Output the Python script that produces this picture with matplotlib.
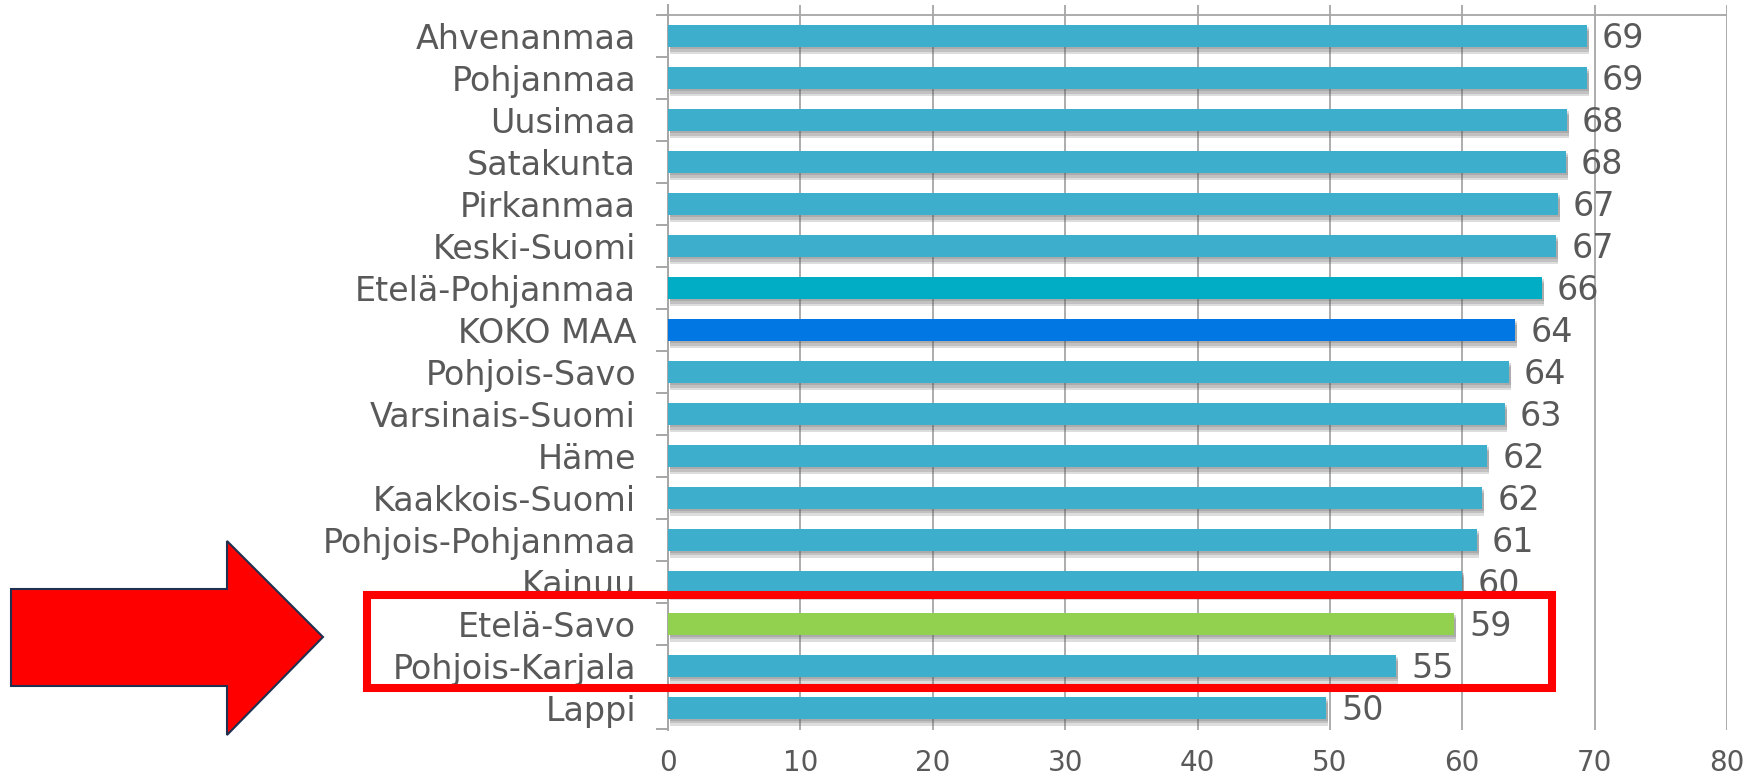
import matplotlib
matplotlib.use("Agg")
import matplotlib.pyplot as plt
import matplotlib.patheffects as pe
from matplotlib.patches import Rectangle, Polygon

# Data
regions = ["Ahvenanmaa", "Pohjanmaa", "Uusimaa", "Satakunta", "Pirkanmaa",
           "Keski-Suomi", "Etelä-Pohjanmaa", "KOKO MAA", "Pohjois-Savo",
           "Varsinais-Suomi", "Häme", "Kaakkois-Suomi", "Pohjois-Pohjanmaa",
           "Kainuu", "Etelä-Savo", "Pohjois-Karjala", "Lappi"]
values = [69.4, 69.4, 67.9, 67.8, 67.2, 67.1, 66.0, 64.0, 63.5,
          63.2, 61.9, 61.5, 61.1, 60.0, 59.4, 55.0, 49.7]
xticks = [0, 10, 20, 30, 40, 50, 60, 70, 80]

W, H = 1749, 778
base_color = "#3DAFCC"
special = {"Etelä-Pohjanmaa": "#00ADC5", "KOKO MAA": "#0077E2", "Etelä-Savo": "#92D050"}
text_color = "#595959"
grid_color = "#A6A6A6"

fig = plt.figure(figsize=(W / 100, H / 100), dpi=100)
ax = fig.add_axes([668 / W, 1 - 730 / H, (1727 - 668) / W, 725 / H])

colors = [special.get(r, base_color) for r in regions]
ypos = list(range(len(regions)))
bars = ax.barh(ypos, values, height=0.54, color=colors, zorder=3)
# soft drop shadow under each bar
shadow = [pe.SimplePatchShadow(offset=(1.5, -d), shadow_rgbFace="#555555", alpha=0.2)
          for d in (1.5, 3, 4.5)]
for b in bars:
    b.set_path_effects(shadow + [pe.Normal()])

for y, v in zip(ypos, values):
    ax.annotate(str(round(v)), xy=(v, y), xytext=(11, -1.5), textcoords="offset points",
                va="center", ha="left", fontsize=24, color=text_color, zorder=4)

ax.set_xlim(0, 80)
ax.set_ylim(16.524, -0.738)
ax.set_xticks(xticks)
ax.set_xticklabels([str(t) for t in xticks])
ax.set_yticks(ypos)
ax.set_yticklabels(regions)
ax.set_yticks([i - 0.5 for i in range(len(regions) + 1)], minor=True)

ax.tick_params(axis="x", length=0, pad=14, labelsize=20, labelcolor=text_color)
ax.tick_params(axis="y", which="major", length=0, pad=23, labelsize=24, labelcolor=text_color)
ax.tick_params(axis="y", which="minor", length=9, width=1.4, color=grid_color)

ax.grid(axis="x", color=grid_color, linewidth=1.3, zorder=0)
ax.axhline(-0.5, color=grid_color, linewidth=1.3, zorder=1)
for s in ["top", "right", "bottom"]:
    ax.spines[s].set_visible(False)
ax.spines["left"].set_color(grid_color)
ax.spines["left"].set_linewidth(1.4)


def fx(px):
    return px / W


def fy(py):
    return 1 - py / H


# red highlight box
box = Rectangle((fx(367), fy(688)), fx(1552) - fx(367), fy(594.5) - fy(688),
                transform=fig.transFigure, fill=False, edgecolor="#FF0000",
                linewidth=5.8, zorder=10)
fig.add_artist(box)

# red arrow
arrow_px = [(11, 589), (227, 589), (227, 541), (323, 637), (227, 735), (227, 686), (11, 686)]
arrow = Polygon([(fx(x), fy(y)) for x, y in arrow_px], closed=True,
                transform=fig.transFigure, facecolor="#FF0000",
                edgecolor="#1F3050", linewidth=1.5, zorder=10)
fig.add_artist(arrow)

fig.savefig("out.png", dpi=100)
